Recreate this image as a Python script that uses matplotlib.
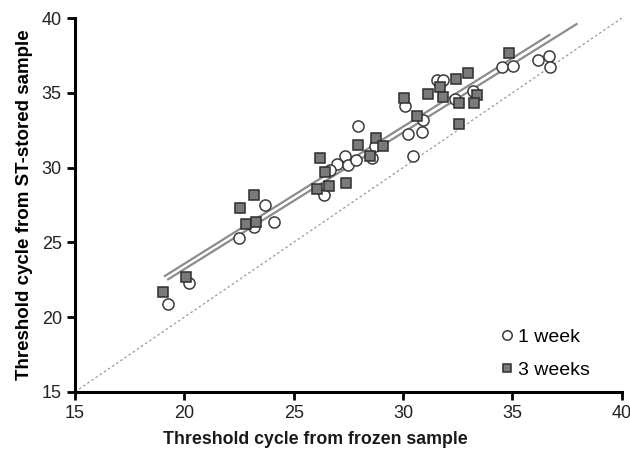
import numpy as np
import matplotlib
matplotlib.use('Agg')
import matplotlib.pyplot as plt

plt.rcParams['font.family'] = ['Liberation Sans', 'DejaVu Sans']

# 1 week storage (open circles)
week1_frozen = [19.26, 20.22, 23.68, 24.09, 23.18, 22.51, 26.38, 27.34, 26.99, 27.49,
                26.65, 27.84, 28.56, 28.71, 27.93, 30.23, 30.85, 30.47, 30.89, 30.10,
                31.53, 31.82, 33.18, 32.39, 34.52, 35.02, 36.19, 36.69, 36.71]
week1_st = [20.88, 22.27, 27.50, 26.38, 26.00, 25.29, 28.17, 30.78, 30.27, 30.14,
            29.84, 30.51, 30.62, 31.44, 32.78, 32.25, 32.36, 30.76, 33.16, 34.12,
            35.86, 35.84, 35.12, 34.59, 36.74, 36.79, 37.21, 37.46, 36.74]

# 3 weeks storage (grey squares)
week3_frozen = [19.04, 20.07, 23.18, 22.54, 22.82, 23.27, 26.05, 26.62, 27.39, 26.20,
                26.45, 27.95, 28.76, 29.08, 28.48, 34.85, 32.98, 32.44, 31.71, 31.15,
                30.06, 31.83, 32.56, 33.36, 33.26, 30.64, 32.55]
week3_st = [21.70, 22.71, 28.17, 27.28, 26.21, 26.38, 28.55, 28.77, 28.94, 30.62,
            29.73, 31.49, 32.01, 31.42, 30.78, 37.68, 36.34, 35.94, 35.42, 34.92,
            34.63, 34.72, 34.34, 34.87, 34.34, 33.48, 32.93]

# regression lines (slope, intercept, x range)
fit1_slope, fit1_intercept, fit1_x = 0.917, 5.226, [19.11, 36.68]
fit3_slope, fit3_intercept, fit3_x = 0.914, 4.926, [19.26, 37.93]

ticks = [15, 20, 25, 30, 35, 40]

fig = plt.figure(figsize=(6.3, 4.51), dpi=100)
ax = fig.add_axes([0.119, 0.131, 0.868, 0.829])

# identity line
ax.plot([15, 40], [15, 40], color='#9a9a9a', lw=0.9, dashes=(2, 2), zorder=1)

for s, b, xr in [(fit1_slope, fit1_intercept, fit1_x), (fit3_slope, fit3_intercept, fit3_x)]:
    xr = np.array(xr)
    ax.plot(xr, s * xr + b, color='#8c8c8c', lw=1.6, zorder=2)

ax.plot(week1_frozen, week1_st, 'o', ms=8, mfc='white', mec='#3a3a3a', mew=1.1,
        label='1 week', zorder=3)
ax.plot(week3_frozen, week3_st, 's', ms=7.5, mfc='#7a7a7a', mec='#2e2e2e', mew=1.1,
        label='3 weeks', zorder=4)

ax.set_xlim(15, 40)
ax.set_ylim(15, 40)
ax.set_xticks(ticks)
ax.set_yticks(ticks)
ax.tick_params(labelsize=13, width=2, length=6, direction='out', color='black',
               labelcolor='#222222')

for side in ['top', 'right']:
    ax.spines[side].set_visible(False)
for side in ['left', 'bottom']:
    ax.spines[side].set_linewidth(2.2)

ax.set_xlabel('Threshold cycle from frozen sample', fontsize=12.8, fontweight='bold',
              color='#1a1a1a')
ax.xaxis.set_label_coords(0.439, -0.105)
ax.set_ylabel('Threshold cycle from ST-stored sample', fontsize=13.5, fontweight='bold', labelpad=6)

leg = ax.legend(loc='lower right', bbox_to_anchor=(0.96, 0.008), frameon=False, fontsize=14,
                handlelength=0.6, handletextpad=0.3, labelspacing=0.8, borderpad=0,
                markerscale=0.85)

fig.savefig('out.png', dpi=100)
